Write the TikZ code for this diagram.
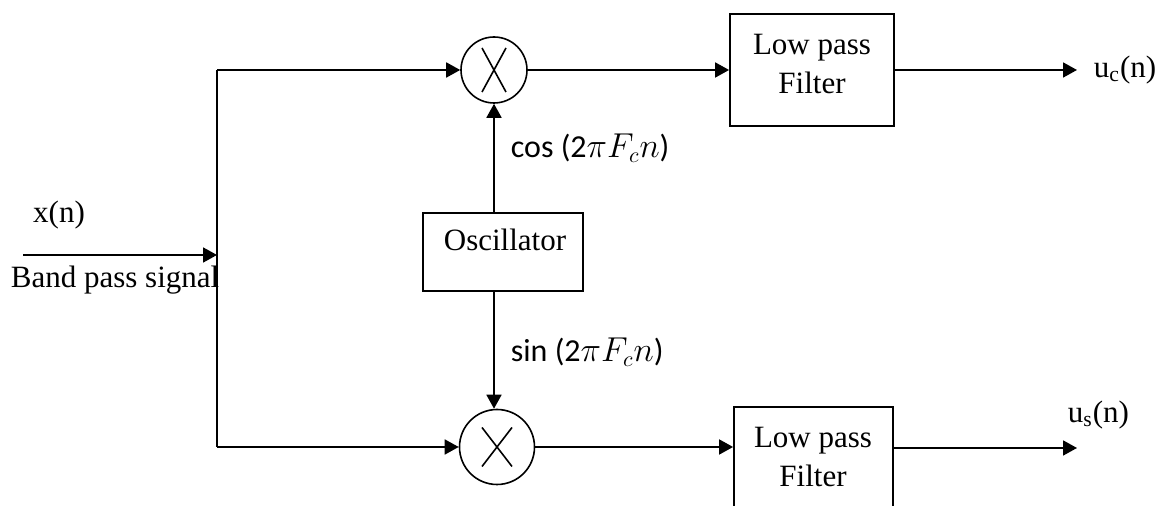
\documentclass[tikz,border=0pt]{standalone}
\usepackage{fontspec}
\setmainfont{Liberation Serif}
\newfontfamily\labelsans{Carlito}
\usetikzlibrary{arrows.meta}

\begin{document}
\begin{tikzpicture}[x=0.5pt,y=-0.5pt, line width=0.9pt,
  every node/.style={font=\fontsize{15.5}{19.5}\selectfont},
  >={Triangle[length=7pt,width=7.5pt]},
  blk/.style={draw, rectangle, inner sep=0pt},
  mixer/.style={draw, circle, inner sep=0pt, line width=0.8pt},
  lbl/.style={inner sep=0pt},
  sig/.style={->}]
\clip (0,0) rectangle (1157,506);

% multipliers
\node[mixer, minimum size=33pt] (m1) at (494,70) {};
\node[mixer, minimum size=37.5pt] (m2) at (497,447) {};
\draw[line width=0.8pt]
  ([shift={(-12,-22)}]m1.center) -- ([shift={(12,22)}]m1.center)
  ([shift={(12,-22)}]m1.center) -- ([shift={(-12,22)}]m1.center);
\draw[line width=0.8pt]
  ([shift={(-15,-19.5)}]m2.center) -- ([shift={(15,19.5)}]m2.center)
  ([shift={(15,-19.5)}]m2.center) -- ([shift={(-15,19.5)}]m2.center);

% blocks
\node[blk, minimum width=82pt, minimum height=56pt] (lpf1) at (812,70) {};
\node[blk, minimum width=79.5pt, minimum height=57pt] (lpf2) at (813.5,464) {};
\node[blk, minimum width=80pt, minimum height=39pt] (osc) at (503,252) {};
\node[lbl, align=center] (lpf1t) at (812,64) {Low pass\\Filter};
\node[lbl, align=center] (lpf2t) at (813,457) {Low pass\\Filter};
\node[lbl] (osct) at (505,240) {Oscillator};

% junction points and free ends
\coordinate (src) at (23,255);
\coordinate (jin) at (217,255);
\coordinate (jt) at (217,70);
\coordinate (jb) at (217,447);
\coordinate (uc) at (1077,70);
\coordinate (us) at (1077,448);

% connections
\draw[sig] (src) -- (jin);
\draw (jt) -- (jb);
\draw[sig] (jt) -- (m1.west);
\draw[sig] (jb) -- (m2.west);
\draw[sig] (osc.north -| m1.south) -- (m1.south);
\draw[sig] (osc.south -| m1.south) -- (m2.north -| m1.south);
\draw[sig] (m1.east) -- (lpf1.west);
\draw[sig] (lpf1.east) -- (uc);
\draw[sig] (m2.east) -- (m2.east -| lpf2.west);
\draw[sig] (lpf2.east |- us) -- (us);

% labels
\node[lbl] (xl) at (59,215) {x(n)};
\node[lbl, anchor=west] (bpl) at (10,280) {Band pass signal};
\node[lbl, anchor=west] (ucl) at (1093,70) {u\textsubscript{c}(n)};
\node[lbl, anchor=west] (usl) at (1067,415) {u\textsubscript{s}(n)};
\node[lbl, anchor=west, font=\fontsize{16}{19}\selectfont] (cosl) at (510,148)
  {\labelsans cos (2$\pi F_c n$)};
\node[lbl, anchor=west, font=\fontsize{16}{19}\selectfont] (sinl) at (510,352)
  {\labelsans sin (2$\pi F_c n$)};
\end{tikzpicture}
\end{document}
